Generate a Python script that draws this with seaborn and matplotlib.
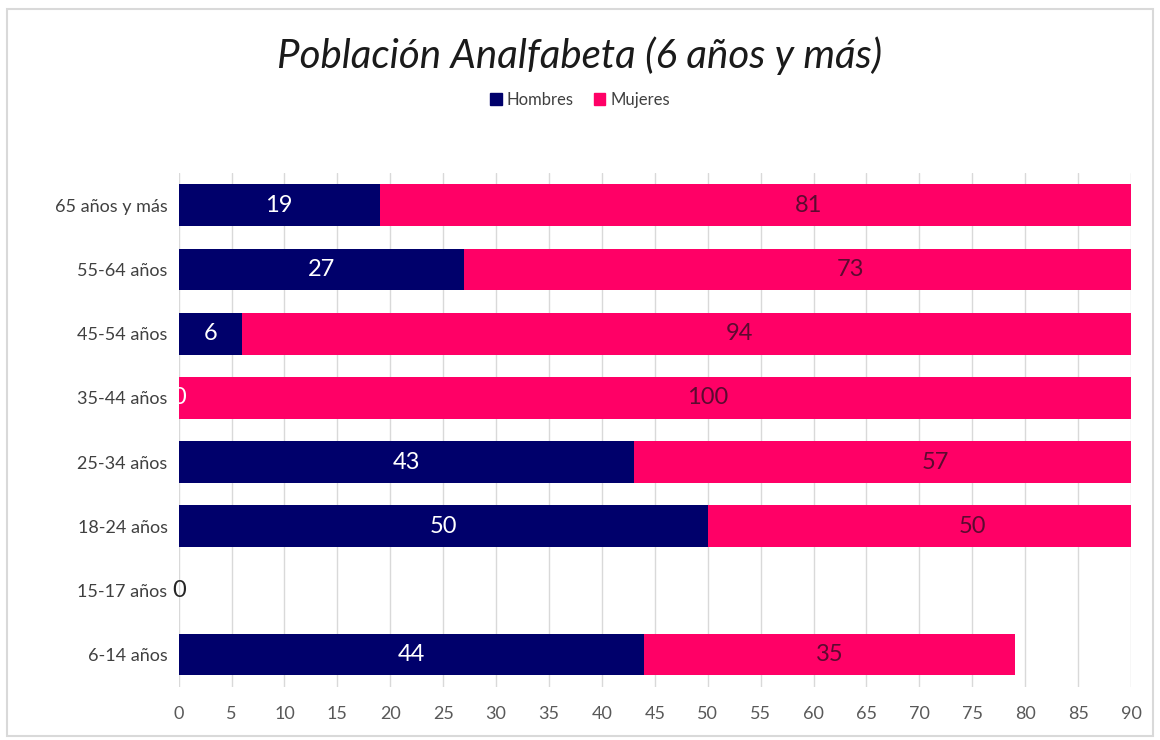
import matplotlib
matplotlib.use("Agg")
import matplotlib.pyplot as plt
import matplotlib.patches as mpatches
import pandas as pd
import seaborn as sns

grupos = ["65 años y más", "55-64 años", "45-54 años", "35-44 años",
          "25-34 años", "18-24 años", "15-17 años", "6-14 años"]
hombres = [19, 27, 6, 0, 43, 50, 0, 44]
mujeres = [81, 73, 94, 100, 57, 50, 0, 35]

df = pd.DataFrame({"grupo": grupos, "Hombres": hombres, "Mujeres": mujeres})
df["total"] = df["Hombres"] + df["Mujeres"]

sns.set_theme(style="white")
plt.rcParams["font.family"] = ["Lato", "DejaVu Sans"]

navy = "#00006b"
pink = "#ff0066"

fig = plt.figure(figsize=(11.6, 7.4), dpi=100)
ax = fig.add_axes([0.154, 0.072, 0.821, 0.694])

# stacked bars: total in pink, hombres on top in navy
sns.barplot(data=df, y="grupo", x="total", color=pink, width=0.65,
            orient="h", ax=ax, saturation=1, linewidth=0, zorder=2)
sns.barplot(data=df, y="grupo", x="Hombres", color=navy, width=0.65,
            orient="h", ax=ax, saturation=1, linewidth=0, zorder=3)

ax.set_xlim(0, 90)
ax.set_xticks(range(0, 91, 5))
ax.grid(axis="x", color="#d9d9d9", linewidth=1, zorder=0)
ax.set_xlabel("")
ax.set_ylabel("")
sns.despine(ax=ax, left=True, bottom=True)
ax.tick_params(axis="x", labelsize=13, colors="#595959", length=0, pad=14)
ax.tick_params(axis="y", labelsize=13, colors="#404040", length=0, pad=8)

# value labels
for i, row in df.iterrows():
    if row["total"] == 0:
        ax.text(0, i, "0", ha="center", va="center", fontsize=17,
                color="#262626", zorder=5, clip_on=False)
        continue
    ax.text(row["Hombres"] / 2, i, str(row["Hombres"]), ha="center",
            va="center", fontsize=17, color="white",
            zorder=2.5 if row["Hombres"] == 0 else 4)
    ax.text(row["Hombres"] + row["Mujeres"] / 2, i, str(row["Mujeres"]),
            ha="center", va="center", fontsize=17, color="#5c0a30", zorder=4)

fig.text(0.5, 0.925, "Población Analfabeta (6 años y más)", ha="center",
         va="center", fontsize=29, style="italic", color="#1a1a1a")

handles = [mpatches.Patch(color=navy, label="Hombres"),
           mpatches.Patch(color=pink, label="Mujeres")]
fig.legend(handles=handles, loc="center", bbox_to_anchor=(0.5, 0.865),
           ncol=2, frameon=False, fontsize=12, handlelength=0.7,
           handleheight=0.7, handletextpad=0.3, columnspacing=1.2,
           labelcolor="#404040")

fig.patches.append(mpatches.Rectangle((0.006, 0.006), 0.988, 0.982,
                                      transform=fig.transFigure, fill=False,
                                      edgecolor="#d9d9d9", linewidth=1.5))

fig.savefig("out.png", dpi=100)
